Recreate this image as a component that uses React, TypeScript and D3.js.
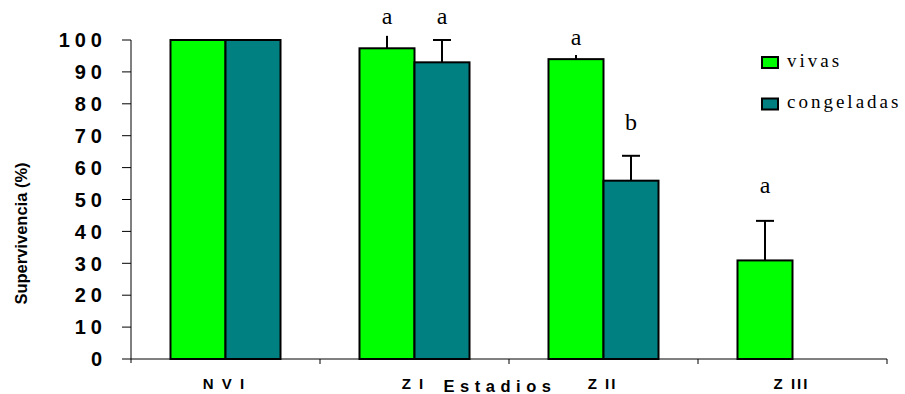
import React from 'react';
import * as d3 from 'd3';

// Estadios (categorías del eje X)
const categories = ['N V I', 'Z I', 'Z II', 'Z III'];
const seriesNames = ['vivas', 'congeladas'];
const seriesColors = ['#00ff00', '#008080'];

// Supervivencia (%) por serie
const vivas = [100, 97.4, 94.0, 30.9];
const congeladas = [100, 93.0, 55.9, null];

// error (+) por serie
const vivasErr = [0, 3.9, 1.3, 12.4];
const congeladasErr = [0, 7.0, 7.8, null];
const vivasCap = [false, false, false, true];
const congeladasCap = [false, true, true, false];

// letras de significancia y la altura (en %) a la que aparecen
const vivasLetters = ['', 'a', 'a', 'a'];
const congeladasLetters = ['', 'a', 'b', ''];
const vivasLetterAt = [0, 105, 98.4, 52];
const congeladasLetterAt = [0, 105, 71.8, 0];

const yTicks = [0, 10, 20, 30, 40, 50, 60, 70, 80, 90, 100];

const W = 905;
const H = 394;
const left = 131;
const right = 887;
const top = 40;
const bottom = 359;

const sans = "'Liberation Sans', Arial, sans-serif";
const serif = "'Liberation Serif', 'Times New Roman', serif";

const App = () => {
  const x = d3.scaleBand<string>().domain(categories).range([left, right]).padding(0);
  const xs = d3.scaleBand<string>().domain(seriesNames).range([0, x.bandwidth()])
    .paddingInner(0).paddingOuter(0.718);
  const y = d3.scaleLinear().domain([0, 100]).range([bottom, top]);

  const series = [
    { name: 'vivas', values: vivas, err: vivasErr, cap: vivasCap, letters: vivasLetters, letterAt: vivasLetterAt },
    { name: 'congeladas', values: congeladas, err: congeladasErr, cap: congeladasCap, letters: congeladasLetters, letterAt: congeladasLetterAt },
  ];

  const tickSpacing = 5;

  return (
    <svg width={W} height={H} style={{ position: 'absolute', left: 0, top: 0, background: '#fff' }}>
      {/* bars */}
      {series.map((s, si) => (
        <g key={s.name}>
          {categories.map((c, i) => {
            const v = s.values[i];
            if (v == null) return null;
            const bx = (x(c) ?? 0) + (xs(s.name) ?? 0);
            const bw = xs.bandwidth();
            return (
              <rect key={c} x={bx} y={y(v)} width={bw} height={y(0) - y(v)}
                fill={seriesColors[si]} stroke="#000" strokeWidth={2} />
            );
          })}
        </g>
      ))}

      {/* error bars */}
      {series.map((s) => (
        <g key={s.name + '-err'} stroke="#000" strokeWidth={2}>
          {categories.map((c, i) => {
            const v = s.values[i];
            const e = s.err[i];
            if (v == null || !e) return null;
            const cx = (x(c) ?? 0) + (xs(s.name) ?? 0) + xs.bandwidth() / 2;
            return (
              <g key={c}>
                <line x1={cx} x2={cx} y1={y(v)} y2={y(v + e)} />
                {s.cap[i] && <line x1={cx - 9} x2={cx + 9} y1={y(v + e)} y2={y(v + e)} />}
              </g>
            );
          })}
        </g>
      ))}

      {/* letters */}
      {series.map((s) => (
        <g key={s.name + '-let'} fontFamily={serif} fontSize={24} textAnchor="middle">
          {categories.map((c, i) => {
            const l = s.letters[i];
            if (!l) return null;
            const cx = (x(c) ?? 0) + (xs(s.name) ?? 0) + xs.bandwidth() / 2;
            return <text key={c} x={cx} y={y(s.letterAt[i])}>{l}</text>;
          })}
        </g>
      ))}

      {/* y axis */}
      <line x1={left} x2={left} y1={y(100)} y2={bottom + 4} stroke="#000" strokeWidth={1} />
      {yTicks.map((t) => (
        <g key={t}>
          <line x1={left - 9} x2={left} y1={y(t)} y2={y(t)} stroke="#000" strokeWidth={1} />
          <text x={102 + tickSpacing} y={y(t)} dy="0.36em" textAnchor="end"
            fontFamily={sans} fontWeight="bold" fontSize={20}
            letterSpacing={tickSpacing}>{t}</text>
        </g>
      ))}
      <text transform={`translate(27, ${(y(0) + y(100)) / 2 + 34}) rotate(-90)`} textAnchor="middle"
        fontFamily={sans} fontWeight="bold" fontSize={16.5}>
        Supervivencia (%)
      </text>

      {/* x axis */}
      <line x1={left} x2={right} y1={bottom} y2={bottom} stroke="#000" strokeWidth={1} />
      {categories.map((c) => (
        <line key={c} x1={(x(c) ?? 0) + x.bandwidth()} x2={(x(c) ?? 0) + x.bandwidth()}
          y1={bottom} y2={bottom + 5} stroke="#000" strokeWidth={1} />
      ))}
      {categories.map((c) => (
        <text key={c} x={(x(c) ?? 0) + x.bandwidth() / 2 - 1} y={389} textAnchor="middle"
          fontFamily={sans} fontWeight="bold" fontSize={15}
          letterSpacing={2}>{c}</text>
      ))}
      <text x={500} y={392} textAnchor="middle"
        fontFamily={sans} fontWeight="bold" fontSize={16.5}
        letterSpacing={5.5}>Estadios</text>

      {/* legend */}
      {seriesNames.map((n, i) => (
        <g key={n} transform={`translate(762, ${57 + i * 41.5})`}>
          <rect x={0} y={0} width={16} height={11} fill={seriesColors[i]} stroke="#000" strokeWidth={2} />
          <text x={25} y={9.5} fontFamily={serif} fontSize={19}
            letterSpacing={3}>{n}</text>
        </g>
      ))}
    </svg>
  );
};

export default App;
